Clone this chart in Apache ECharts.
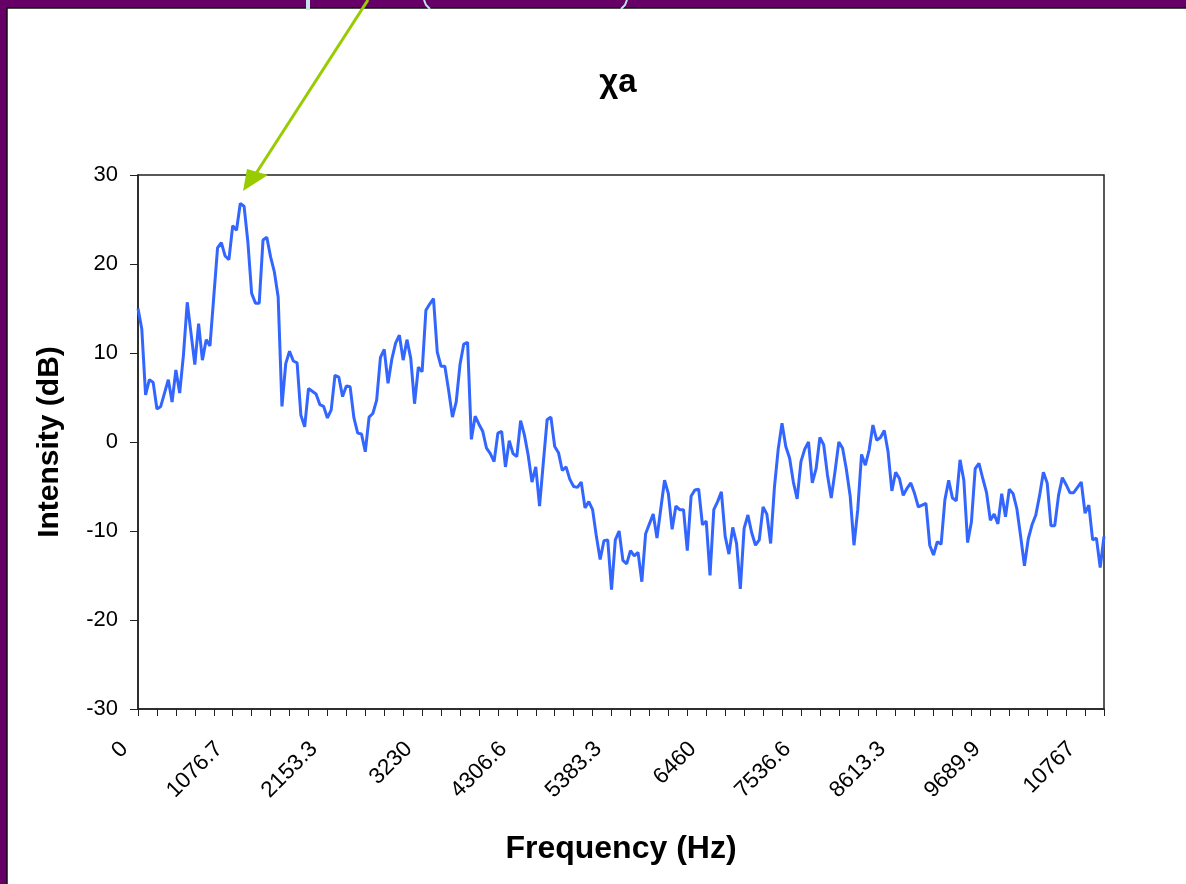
<!DOCTYPE html>
<html>
<head>
<meta charset="utf-8">
<script src="https://cdn.jsdelivr.net/npm/echarts@6/dist/echarts.min.js"></script>
<style>
  html, body { margin: 0; padding: 0; background: #660066; }
  #chart { width: 1186px; height: 884px; }
</style>
</head>
<body>
<div id="chart"></div>
<script>
// Spectrum of "χa": intensity (dB) per FFT bin
const binStepHz = 43.0664;  // spacing of frequency bins
const intensity = [
  15.0, 12.7, 5.3, 7.0, 6.7, 3.7, 4.0, 5.5, 7.0, 4.5,
  8.1, 5.5, 9.8, 15.7, 12.2, 8.7, 13.3, 9.2, 11.5, 10.8,
  16.3, 21.8, 22.4, 20.9, 20.5, 24.3, 23.8, 26.8, 26.5, 22.5,
  16.7, 15.6, 15.6, 22.7, 23.0, 20.8, 19.1, 16.3, 4.0, 8.8,
  10.2, 9.1, 8.9, 3.0, 1.7, 6.0, 5.7, 5.4, 4.2, 4.0,
  2.7, 3.6, 7.5, 7.3, 5.1, 6.3, 6.2, 2.7, 1.0, 0.9,
  -1.1, 2.8, 3.2, 4.7, 9.5, 10.4, 6.6, 9.3, 11.1, 12.0,
  9.2, 11.5, 9.4, 4.3, 8.4, 7.9, 14.8, 15.5, 16.1, 10.1,
  8.5, 8.5, 5.8, 2.8, 4.5, 8.7, 11.0, 11.2, 0.3, 2.9,
  2.0, 1.2, -0.7, -1.3, -2.2, 1.0, 1.2, -2.8, 0.15, -1.3,
  -1.65, 2.4, 0.8, -1.5, -4.5, -2.8, -7.2, -2.3, 2.5, 2.8,
  -0.5, -1.2, -3.2, -2.8, -4.2, -5.0, -5.1, -4.5, -7.4, -6.7,
  -7.6, -10.6, -13.2, -11.1, -11.0, -16.6, -11.0, -10.0, -13.3, -13.7,
  -12.2, -12.8, -12.4, -15.7, -10.3, -9.2, -8.1, -10.8, -7.5, -4.3,
  -5.8, -9.8, -7.2, -7.6, -7.6, -12.2, -6.1, -5.4, -5.3, -9.3,
  -8.9, -15.0, -7.6, -6.7, -5.6, -10.6, -12.6, -9.6, -11.4, -16.5,
  -9.7, -8.2, -10.2, -11.6, -11.0, -7.3, -8.1, -11.4, -5.1, -0.8,
  2.1, -0.5, -1.8, -4.5, -6.4, -2.2, -0.8, 0.0, -4.6, -3.0,
  0.5, -0.3, -3.7, -6.3, -3.3, 0.0, -0.7, -3.1, -6.1, -11.6,
  -7.6, -1.4, -2.6, -0.9, 1.9, 0.2, 0.5, 1.3, -1.1, -5.5,
  -3.4, -4.1, -6.0, -5.2, -4.6, -5.8, -7.3, -7.1, -6.9, -11.6,
  -12.7, -11.2, -11.5, -6.5, -4.3, -6.3, -6.6, -2.0, -4.3, -11.3,
  -9.0, -3.0, -2.4, -4.1, -5.7, -8.8, -8.1, -9.2, -5.8, -8.4,
  -5.3, -5.8, -7.5, -10.6, -13.9, -10.9, -9.3, -8.2, -6.0, -3.4,
  -4.6, -9.4, -9.4, -6.0, -4.0, -4.8, -5.7, -5.7, -5.1, -4.5,
  -8.0, -7.1, -11.0, -10.8, -14.1, -10.6
];
const frequencies = intensity.map((_, i) => (i * binStepHz).toFixed(1));
const xTickLabels = ['0', '1076.7', '2153.3', '3230', '4306.6', '5383.3', '6460', '7536.6', '8613.3', '9689.9', '10767'];
const labelEvery = 25;
const tickEvery = 5;
const yMin = -30, yMax = 30, yStep = 10;

const FONT = "'Liberation Sans', Arial, sans-serif";
const chart = echarts.init(document.getElementById('chart'), null, { renderer: 'canvas' });

chart.setOption({
  backgroundColor: '#660066',
  animation: false,
  title: {
    text: 'χa',
    left: 613,
    top: 61,
    textAlign: 'center',
    textStyle: { fontFamily: FONT, fontSize: 33, fontWeight: 'bold', color: '#000' }
  },
  grid: {
    left: 138, right: 82, top: 175, bottom: 175,
    show: true, borderColor: '#222', borderWidth: 1.5, backgroundColor: 'transparent'
  },
  xAxis: {
    type: 'category',
    data: frequencies,
    boundaryGap: false,
    name: 'Frequency (Hz)',
    nameLocation: 'middle',
    nameGap: 124,
    nameTextStyle: { fontFamily: FONT, fontSize: 32, fontWeight: 'bold', color: '#000' },
    axisLine: { show: true, onZero: false, lineStyle: { color: '#222', width: 1.5 } },
    axisTick: { show: true, interval: (i) => i % tickEvery === 0, length: 7, lineStyle: { color: '#222', width: 1 } },
    axisLabel: {
      interval: (i) => i % labelEvery === 0,
      rotate: 45,
      margin: 23,
      padding: [0, 19, 0, 0],
      fontFamily: FONT, fontSize: 22.5, color: '#000',
      formatter: (v, i) => xTickLabels[Math.round(i / labelEvery)]
    },
    splitLine: { show: false }
  },
  yAxis: {
    type: 'value',
    min: yMin, max: yMax, interval: yStep,
    name: 'Intensity (dB)',
    nameLocation: 'middle',
    nameGap: 73,
    nameRotate: 90,
    nameTextStyle: { fontFamily: FONT, fontSize: 30, fontWeight: 'bold', color: '#000' },
    axisLine: { show: true, lineStyle: { color: '#222', width: 1.5 } },
    axisTick: { show: true, length: 8, lineStyle: { color: '#222', width: 1 } },
    axisLabel: { margin: 20, fontFamily: FONT, fontSize: 22, color: '#000' },
    splitLine: { show: false }
  },
  graphic: [
    { type: 'rect', z: -100, shape: { x: 7, y: 8, width: 1200, height: 900 },
      style: { fill: '#ffffff', stroke: '#111', lineWidth: 1.5 } },
    { type: 'rect', z: 100, shape: { x: 306, y: 0, width: 4, height: 10 },
      style: { fill: '#c4e2ea' } },
    { type: 'polyline', z: 100, shape: { points: [[424, 0], [426, 5], [430, 9]] },
      style: { stroke: '#c4e2ea', lineWidth: 2, fill: null } },
    { type: 'polyline', z: 100, shape: { points: [[627, 0], [625, 5], [621, 9]] },
      style: { stroke: '#c4e2ea', lineWidth: 2, fill: null } },
    { type: 'line', z: 100, shape: { x1: 368, y1: 0, x2: 255, y2: 175 },
      style: { stroke: '#99cc00', lineWidth: 3 } },
    { type: 'polygon', z: 101, shape: { points: [[243, 191], [268, 175], [247, 169]] },
      style: { fill: '#99cc00' } }
  ],
  series: [{
    type: 'line',
    data: intensity,
    symbol: 'none',
    smooth: false,
    lineStyle: { color: '#3366ff', width: 3 },
    z: 5
  }]
});
</script>
</body>
</html>
